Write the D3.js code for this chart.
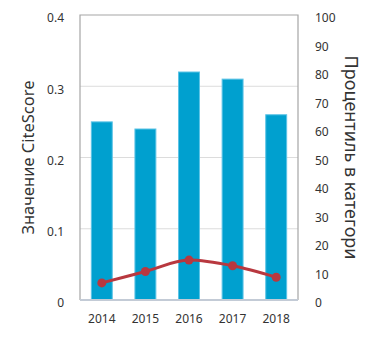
<!DOCTYPE html>
<html>
<head>
<meta charset="utf-8">
<script src="https://cdn.jsdelivr.net/npm/d3@7"></script>
<style>
	body { margin: 0; background: #fff; }
	svg text { font-family: "Noto Sans", "Open Sans", sans-serif; fill: #333; }
	.tick text { font-size: 12px; }
	.label { font-size: 16.5px; }
	.label.right { font-size: 18px; }
</style>
</head>
<body>
<svg width="372" height="350"></svg>
<script>
let years = ['2014', '2015', '2016', '2017', '2018'];
let citeScore = [0.25, 0.24, 0.32, 0.31, 0.26];
let percentile = [6, 10, 14, 12, 8];
let leftTicks = [0, 0.1, 0.2, 0.3, 0.4];
let rightTicks = [0, 10, 20, 30, 40, 50, 60, 70, 80, 90, 100];

let svg = d3.select('svg');
let plotLeft = 80, plotRight = 298, plotTop = 15, plotBottom = 300;

let xScale = d3.scaleBand().domain(years).range([plotLeft, plotRight]).paddingInner(0.52).paddingOuter(0.26);
let yLeft = d3.scaleLinear().domain([0, 0.4]).range([plotBottom, plotTop]);
let yRight = d3.scaleLinear().domain([0, 100]).range([plotBottom, plotTop]);

// Gridlines
svg.append('g').selectAll('line').data(leftTicks.slice(1, 4)).enter().append('line')
	.attr('x1', plotLeft).attr('x2', plotRight)
	.attr('y1', d => yLeft(d)).attr('y2', d => yLeft(d))
	.attr('stroke', '#dcdcdc').attr('stroke-width', 1);

// Frame
svg.append('path')
	.attr('d', 'M' + plotLeft + ',' + plotBottom + 'V' + plotTop + 'H' + plotRight + 'V' + plotBottom)
	.attr('fill', 'none').attr('stroke', '#a6a6a6').attr('stroke-width', 1.2);

// Bars
svg.append('g').selectAll('rect').data(years).enter().append('rect')
	.attr('x', d => xScale(d))
	.attr('y', (d, i) => yLeft(citeScore[i]))
	.attr('width', xScale.bandwidth())
	.attr('height', (d, i) => plotBottom - yLeft(citeScore[i]))
	.attr('fill', '#00a0cf')
	.attr('stroke', '#5cc3e6').attr('stroke-width', 1);

// Bottom axis line
svg.append('line')
	.attr('x1', plotLeft).attr('x2', plotRight).attr('y1', plotBottom).attr('y2', plotBottom)
	.attr('stroke', '#c3cbd6').attr('stroke-width', 2);

// Percentile line
let line = d3.line()
	.x((d, i) => xScale(years[i]) + xScale.bandwidth() / 2)
	.y(d => yRight(d))
	.curve(d3.curveMonotoneX);
svg.append('path').datum(percentile)
	.attr('d', line)
	.attr('fill', 'none').attr('stroke', '#b8383f').attr('stroke-width', 3);
svg.append('g').selectAll('circle').data(percentile).enter().append('circle')
	.attr('cx', (d, i) => xScale(years[i]) + xScale.bandwidth() / 2)
	.attr('cy', d => yRight(d))
	.attr('r', 4.5)
	.attr('fill', '#b8383f');

// Axes
let xAxis = svg.append('g').attr('transform', 'translate(0,' + (plotBottom + 6) + ')')
	.call(d3.axisBottom(xScale).tickSize(0).tickPadding(8));
let leftAxis = svg.append('g').attr('transform', 'translate(' + (plotLeft - 16) + ',3)')
	.call(d3.axisLeft(yLeft).tickValues(leftTicks).tickSize(0).tickPadding(0)
		.tickFormat(d => d === 0 ? '0' : d3.format('.1f')(d)));
let rightAxis = svg.append('g').attr('transform', 'translate(' + (plotRight + 17) + ',3)')
	.call(d3.axisRight(yRight).tickValues(rightTicks).tickSize(0).tickPadding(0));
[xAxis, leftAxis, rightAxis].forEach(a => a.select('.domain').remove());

// Axis titles
svg.append('text').attr('class', 'label')
	.attr('transform', 'translate(34,' + ((plotTop + plotBottom) / 2) + ') rotate(-90)')
	.attr('text-anchor', 'middle')
	.text('Значение CiteScore');
svg.append('text').attr('class', 'label right')
	.attr('transform', 'translate(345,' + ((plotTop + plotBottom) / 2) + ') rotate(90)')
	.attr('text-anchor', 'middle')
	.text('Процентиль в категори');
</script>
</body>
</html>
